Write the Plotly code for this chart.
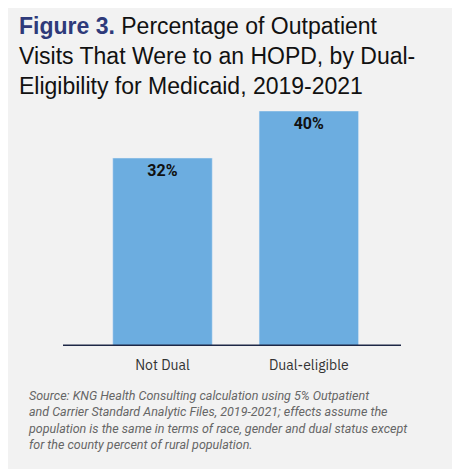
import plotly.graph_objects as go

categories = ["Not Dual", "Dual-eligible"]
values = [32, 40]
labels = ["<b>32%</b>", "<b>40%</b>"]

fig = go.Figure(go.Bar(
    x=categories, y=values, marker_color="#6cade0", width=0.68,
    text=labels, textposition="inside", insidetextanchor="end",
    textfont=dict(family="Roboto", size=16, color="#111111"),
    hoverinfo="skip"))
fig.update_traces(textangle=0)
fig.update_layout(
    width=460, height=469, paper_bgcolor="#f2f2f2", plot_bgcolor="#f2f2f2",
    margin=dict(l=55, r=67, t=103, b=131), showlegend=False, uniformtext=dict(minsize=16, mode="show"),
    xaxis=dict(range=[-0.68, 1.63], showgrid=False, zeroline=False, showline=False,
               ticks="outside", ticklen=6, tickcolor="rgba(0,0,0,0)",
               tickfont=dict(family="IBM Plex Sans, Roboto", size=14, color="#333333")),
    yaxis=dict(range=[0, 40], visible=False),
    shapes=[dict(type="line", xref="paper", yref="y", x0=0, x1=1, y0=0, y1=0,
                 line=dict(color="#1e2847", width=3))],
    annotations=[
        dict(xref="paper", yref="paper", x=-0.135, y=1.425, xanchor="left", yanchor="top",
             align="left", showarrow=False,
             font=dict(family="Liberation Sans, Arial", size=23, color="#111111"),
             text="<b><span style='color:#2e3a7a'>Figure 3.</span></b> Percentage of Outpatient<br>Visits That Were to an HOPD, by Dual-<br>Eligibility for Medicaid, 2019-2021"),
        dict(xref="paper", yref="paper", x=-0.11, y=-0.17, xanchor="left", yanchor="top",
             align="left", showarrow=False,
             font=dict(family="Roboto", size=12.5, color="#666666"),
             text="<i>Source: KNG Health Consulting calculation using 5% Outpatient<br>and Carrier Standard Analytic Files, 2019-2021; effects assume the<br>population is the same in terms of race, gender and dual status except<br>for the county percent of rural population.</i>"),
    ])
fig.write_html("out.html")
